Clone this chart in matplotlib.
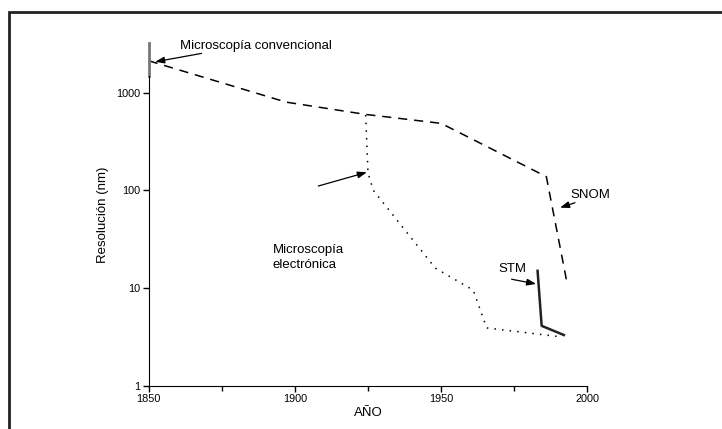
import matplotlib
matplotlib.use('Agg')
import matplotlib.pyplot as plt
from matplotlib.patches import Rectangle

plt.rcParams['font.family'] = ['Liberation Sans', 'DejaVu Sans']

# Microscopía convencional + SNOM (línea discontinua)
anios_conv = [1850, 1897, 1924, 1950, 1986, 1993]
res_conv = [2120, 800, 600, 485, 138, 11.6]

# Microscopía electrónica (línea punteada)
anios_elec = [1924.2, 1925, 1926.8, 1948, 1961, 1965.6, 1989.5]
res_elec = [590, 150, 100, 16, 9.5, 3.9, 3.2]

# STM (línea continua)
anios_stm = [1983, 1984.4, 1992]
res_stm = [15, 4.1, 3.3]

yticks = [1, 10, 100, 1000]
xticks = [1850, 1900, 1950, 2000]

fig = plt.figure(figsize=(7.22, 4.29), dpi=100)
ax = fig.add_axes([0.206, 0.101, 0.6074, 0.798])

ax.plot(anios_conv, res_conv, color='black', lw=1.1, ls=(0, (6, 4.5)), clip_on=False)
ax.plot(anios_elec, res_elec, color='black', lw=1.1, ls=(0, (1, 4)), clip_on=False)
ax.plot(anios_stm, res_stm, color='#222222', lw=1.8, clip_on=False)

ax.set_yscale('log')
ax.set_xlim(1850, 2000)
ax.set_ylim(1, 3200)

ax.spines['top'].set_visible(False)
ax.spines['right'].set_visible(False)
ax.spines['left'].set_bounds(1, 1490)
# marca vertical gris de la microscopía convencional
ax.plot([1850, 1850], [1490, 3200], color='#777777', lw=2, clip_on=False)

ax.set_xticks(xticks)
ax.set_xticklabels([str(t) for t in xticks])
ax.set_xticks([1875, 1925, 1975], minor=True)
ax.set_yticks(yticks)
ax.set_yticklabels([str(t) for t in yticks])
ax.yaxis.set_minor_locator(matplotlib.ticker.NullLocator())
ax.tick_params(axis='both', which='major', direction='out', length=4, width=1, labelsize=7.8, pad=2)
ax.tick_params(axis='x', which='minor', direction='out', length=3.5, width=1)

ax.set_xlabel('AÑO', fontsize=9.5, labelpad=2)
ax.set_ylabel('Resolución (nm)', fontsize=9.5, labelpad=5)

arrow = dict(arrowstyle='-|>,head_length=0.55,head_width=0.2', color='black', lw=0.9, shrinkA=0, shrinkB=0)

ax.text(1860.7, 3000, 'Microscopía convencional', fontsize=9.5, ha='left', va='center')
ax.annotate('', xy=(1852.2, 2070), xytext=(1868.1, 2525), arrowprops=arrow, annotation_clip=False)

ax.text(1892.5, 20.5, 'Microscopía\nelectrónica', fontsize=9.5, ha='left', va='center', linespacing=1.3)
ax.annotate('', xy=(1924.6, 153), xytext=(1908, 110.7), arrowprops=arrow)

ax.text(1994.1, 89.5, 'SNOM', fontsize=9.5, ha='left', va='center')
ax.annotate('', xy=(1990.7, 66.4), xytext=(1995.8, 74.7), arrowprops=arrow, annotation_clip=False)

ax.text(1969.6, 15.5, 'STM', fontsize=9.5, ha='left', va='center')
ax.annotate('', xy=(1982.5, 11), xytext=(1974.1, 12.3), arrowprops=arrow)

# marco de la figura
fig.patches.append(Rectangle((9 / 722, -0.2), 1.2, 1.2 - 12 / 429, transform=fig.transFigure,
                             fill=False, edgecolor='#222222', lw=2))

fig.savefig('out.png', dpi=100)
